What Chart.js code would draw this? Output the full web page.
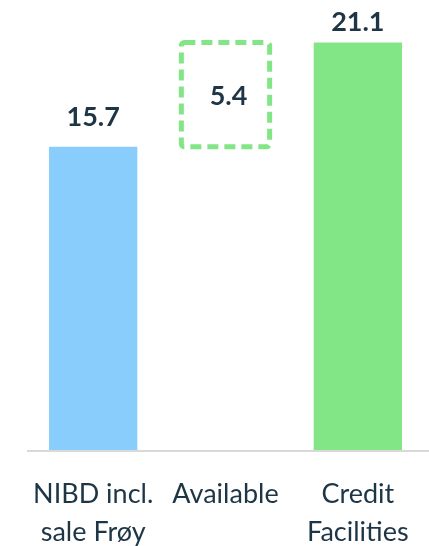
<!DOCTYPE html>
<html>
<head>
<meta charset="utf-8">
<script src="https://cdn.jsdelivr.net/npm/chart.js@4.4.1/dist/chart.umd.min.js"></script>
<style>
  html, body { margin: 0; padding: 0; background: #ffffff; }
  #wrap { width: 429px; height: 546px; position: relative; }
</style>
</head>
<body>
<div id="wrap"><canvas id="c"></canvas></div>
<script>
// Categories, each split into display lines
const categories = [
  ['NIBD incl.', 'sale Frøy'],
  ['Available', ''],
  ['Credit', 'Facilities']
];
// NIBD and credit facilities; the available headroom is their difference
const nibd = 15.7;
const creditFacilities = 21.1;
const available = 5.4;

const barLow  = [0, nibd, 0];
const barHigh = [nibd, nibd + available, creditFacilities];
const valueLabels = ['15.7', '5.4', '21.1'];

const TEXT = '#1e3545';
const BLUE = '#88cdfb';
const GREEN = '#82e686';

// Value labels above solid bars, inside the dashed headroom box
const valueLabelPlugin = {
  id: 'valueLabels',
  afterDatasetsDraw(chart) {
    const ctx = chart.ctx;
    const meta = chart.getDatasetMeta(0);
    const lift = [20, 0, 11];
    ctx.save();
    ctx.font = 'bold 27px Lato';
    ctx.fillStyle = TEXT;
    ctx.textAlign = 'center';
    meta.data.forEach((bar, i) => {
      if (i === 1) {
        ctx.textBaseline = 'middle';
        ctx.fillText(valueLabels[i], bar.x + 3, (bar.y + bar.base) / 2 + 2);
      } else {
        ctx.textBaseline = 'bottom';
        ctx.fillText(valueLabels[i], bar.x, bar.y - lift[i] + 4);
      }
    });
    ctx.restore();
  }
};

// Dashed outline for the floating "Available" bar and the baseline
const dashedBoxPlugin = {
  id: 'dashedBox',
  afterDatasetsDraw(chart) {
    const ctx = chart.ctx;
    const bar = chart.getDatasetMeta(0).data[1];
    const half = bar.width / 2;
    ctx.save();
    ctx.strokeStyle = GREEN;
    ctx.lineWidth = 5;
    ctx.setLineDash([11, 6]);
    ctx.beginPath();
    if (ctx.roundRect) {
      ctx.roundRect(bar.x - half, bar.y, bar.width, bar.base - bar.y, 3);
    } else {
      ctx.rect(bar.x - half, bar.y, bar.width, bar.base - bar.y);
    }
    ctx.stroke();
    ctx.restore();

    const yBase = chart.scales.y.getPixelForValue(0);
    ctx.save();
    ctx.strokeStyle = '#d9d9d9';
    ctx.lineWidth = 2;
    ctx.beginPath();
    ctx.moveTo(chart.chartArea.left, yBase + 1);
    ctx.lineTo(chart.width, yBase + 1);
    ctx.stroke();
    ctx.restore();
  }
};

new Chart(document.getElementById('c'), {
  type: 'bar',
  data: {
    labels: categories,
    datasets: [{
      data: barLow.map((lo, i) => [lo, barHigh[i]]),
      backgroundColor: [BLUE, 'rgba(0,0,0,0)', GREEN],
      borderWidth: 0,
      barPercentage: 1,
      categoryPercentage: 0.667
    }]
  },
  options: {
    responsive: true,
    maintainAspectRatio: false,
    animation: false,
    layout: { padding: { left: 27, right: 5, top: 0, bottom: 0 } },
    plugins: {
      legend: { display: false },
      tooltip: { enabled: false }
    },
    scales: {
      x: {
        grid: { display: false },
        border: { display: false },
        afterFit(scale) { scale.height = 96; },
        ticks: {
          color: TEXT,
          font: { family: 'Lato', size: 27, lineHeight: 1.38 },
          padding: 18,
          maxRotation: 0,
          autoSkip: false
        }
      },
      y: {
        display: false,
        min: 0,
        max: 23.3
      }
    }
  },
  plugins: [valueLabelPlugin, dashedBoxPlugin]
});
</script>
</body>
</html>
